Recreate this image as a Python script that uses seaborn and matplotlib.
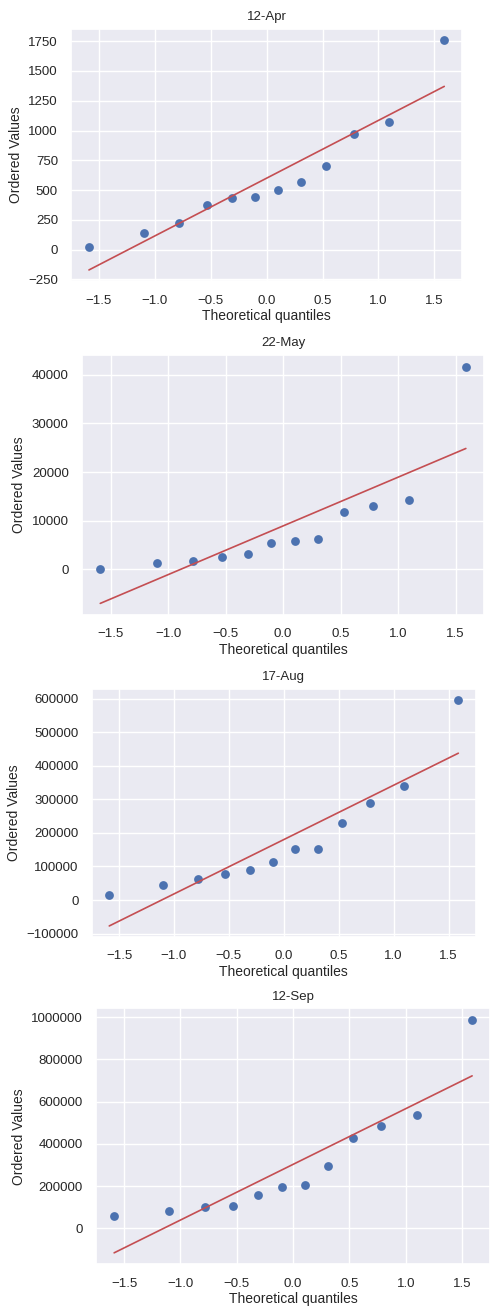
import numpy as np
import matplotlib
matplotlib.use("Agg")
import matplotlib.pyplot as plt
import seaborn as sns

# theoretical quantiles (same for each panel, n=12)
quantiles = [-1.589, -1.098, -0.783, -0.531, -0.308, -0.101,
             0.101, 0.308, 0.531, 0.783, 1.098, 1.589]

titles = ["12-Apr", "22-May", "17-Aug", "12-Sep"]

apr_vals = [20, 137, 223, 377, 430, 444, 500, 564, 703, 971, 1069, 1758]
may_vals = [100, 1360, 1700, 2450, 3190, 5430, 5840, 6180, 11750, 12970, 14190, 41700]
aug_vals = [13800, 44400, 62200, 77000, 90800, 114500, 152000, 151500,
            229000, 290200, 339600, 596200]
sep_vals = [59400, 81250, 100000, 107800, 156250, 193750, 204700, 295300,
            429700, 484400, 539000, 989000]

series = [apr_vals, may_vals, aug_vals, sep_vals]

sns.set_theme(style="darkgrid")
plt.rcParams["font.family"] = ["Liberation Sans", "DejaVu Sans"]
plt.rcParams.update({
    "axes.labelsize": 10,
    "axes.titlesize": 9.5,
    "xtick.labelsize": 9.5,
    "ytick.labelsize": 9.5,
})

fig = plt.figure(figsize=(4.91, 13.09), dpi=100)

# axes boxes [left, bottom, width, height] in figure fraction
boxes = [
    [0.145, 0.785, 0.796, 0.193],
    [0.167, 0.530, 0.819, 0.199],
    [0.187, 0.284, 0.782, 0.190],
    [0.196, 0.034, 0.802, 0.196],
]

for box, title, vals in zip(boxes, titles, series):
    ax = fig.add_axes(box)
    sns.regplot(x=np.array(quantiles), y=np.array(vals), ci=None, ax=ax,
                scatter_kws={"color": "#4C72B0", "s": 40, "alpha": 1, "linewidths": 0},
                line_kws={"color": "#C44E52", "linewidth": 1.2})
    ax.set_title(title, pad=6)
    ax.set_xlabel("Theoretical quantiles", labelpad=2)
    ax.set_ylabel("Ordered Values")
    ax.ticklabel_format(axis="y", style="plain", useOffset=False)
    ax.set_xticks([-1.5, -1.0, -0.5, 0.0, 0.5, 1.0, 1.5])

fig.savefig("out.png", dpi=100)
